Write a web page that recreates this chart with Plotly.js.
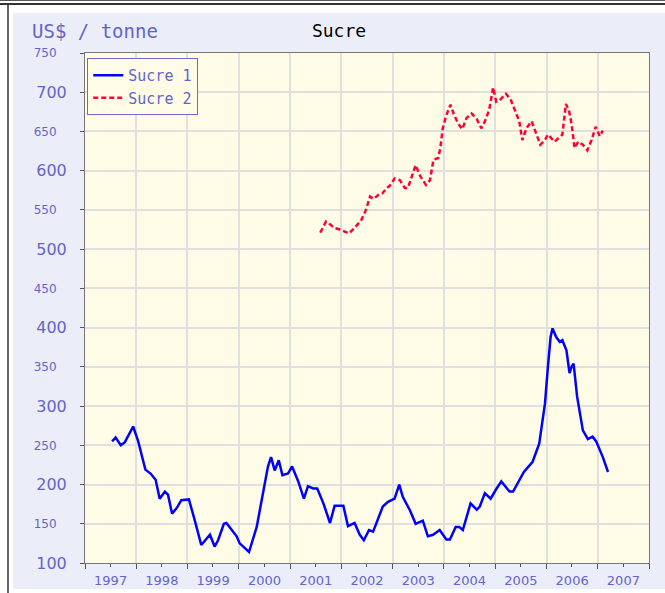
<!DOCTYPE html>
<html>
<head>
<meta charset="utf-8">
<script src="https://cdn.plot.ly/plotly-3.0.1.min.js"></script>
<style>
  body { margin: 0; background: #ffffff; }
  #frame { position: absolute; left: 0; top: 0; width: 665px; height: 593px; }
  #topline1 { position: absolute; left: 0; top: 0; width: 665px; height: 1px; background: #555; }
  #topline2 { position: absolute; left: 0; top: 3px; width: 665px; height: 2px; background: #333; }
  #leftline { position: absolute; left: 7px; top: 5px; width: 2px; height: 588px; background: #666; }
  #chart { position: absolute; left: 13px; top: 13px; width: 652px; height: 576px; }
</style>
</head>
<body>
<div id="frame">
  <div id="topline1"></div>
  <div id="topline2"></div>
  <div id="leftline"></div>
  <div id="chart"></div>
</div>
<script>
// Sucre 1 (decimal years, US$/tonne)
const sucre1Years = [
  1997.53, 1997.60, 1997.70, 1997.78, 1997.94, 1998.04, 1998.18, 1998.28, 1998.38, 1998.46,
  1998.56, 1998.62, 1998.70, 1998.79, 1998.88, 1999.03, 1999.14, 1999.27, 1999.44, 1999.53,
  1999.60, 1999.71, 1999.76, 1999.96, 2000.02, 2000.20, 2000.35, 2000.48, 2000.57, 2000.63,
  2000.70, 2000.78, 2000.85, 2000.96, 2001.04, 2001.16, 2001.27, 2001.35, 2001.45, 2001.53,
  2001.65, 2001.78, 2001.87, 2002.04, 2002.13, 2002.26, 2002.36, 2002.44, 2002.54, 2002.62,
  2002.75, 2002.81, 2002.91, 2003.04, 2003.13, 2003.20, 2003.34, 2003.45, 2003.59, 2003.69,
  2003.79, 2003.92, 2004.05, 2004.12, 2004.23, 2004.30, 2004.37, 2004.52, 2004.64, 2004.70,
  2004.80, 2004.91, 2005.01, 2005.12, 2005.28, 2005.35, 2005.56, 2005.73, 2005.86, 2005.97,
  2006.03, 2006.08, 2006.12, 2006.19, 2006.26, 2006.31, 2006.39, 2006.45, 2006.49, 2006.53,
  2006.60, 2006.71, 2006.81, 2006.90, 2006.97, 2007.10, 2007.20
];
const sucre1Values = [
  255, 260, 250, 254, 274, 255, 219, 214, 206, 182,
  191, 187, 163, 170, 180, 181, 155, 123, 136, 121,
  129, 150, 151, 134, 125, 114, 146, 189, 223, 235,
  218, 231, 212, 214, 223, 204, 182, 198, 195, 195,
  176, 151, 173, 173, 147, 151, 136, 129, 142, 140,
  163, 172, 178, 182, 200, 184, 167, 150, 154, 134,
  136, 142, 130, 130, 146, 146, 142, 176, 168, 172,
  189, 182, 193, 204, 191, 191, 216, 229, 252, 303,
  350, 388, 399, 388, 382, 384, 371, 342, 350, 354,
  312, 269, 258, 261, 255, 235, 216
];

// Sucre 2
const sucre2Years = [
  2001.59, 2001.70, 2001.79, 2001.87, 2001.97, 2002.07, 2002.15, 2002.26, 2002.39, 2002.48,
  2002.56, 2002.63, 2002.72, 2002.80, 2002.89, 2002.95, 2003.04, 2003.14, 2003.24, 2003.30,
  2003.39, 2003.45, 2003.54, 2003.65, 2003.73, 2003.80, 2003.89, 2003.93, 2003.98, 2004.05,
  2004.13, 2004.20, 2004.28, 2004.36, 2004.44, 2004.54, 2004.64, 2004.73, 2004.80, 2004.88,
  2004.96, 2005.02, 2005.09, 2005.21, 2005.30, 2005.40, 2005.47, 2005.53, 2005.61, 2005.71,
  2005.79, 2005.88, 2005.97, 2006.03, 2006.16, 2006.25, 2006.31, 2006.38, 2006.44, 2006.49,
  2006.55, 2006.62, 2006.71, 2006.80, 2006.88, 2006.96, 2007.04, 2007.10
];
const sucre2Values = [
  521, 535, 531, 527, 525, 522, 520, 527, 537, 550,
  567, 564, 569, 571, 578, 581, 590, 588, 578, 578,
  597, 607, 593, 582, 588, 614, 616, 628, 654, 671,
  684, 671, 660, 653, 667, 673, 666, 654, 663, 677,
  706, 688, 690, 698, 691, 673, 663, 639, 654, 663,
  650, 633, 639, 646, 637, 643, 646, 685, 677, 660,
  629, 637, 633, 626, 639, 656, 644, 651
];

const majorY = [100, 200, 300, 400, 500, 600, 700];
const minorY = [150, 250, 350, 450, 550, 650, 750];

const labelBlue = "#6464c8";
const gridGrey = "#e0e0e0";

function toDate(y) {
  const yr = Math.floor(y);
  const start = Date.UTC(yr, 0, 1);
  const end = Date.UTC(yr + 1, 0, 1);
  return new Date(start + (y - yr) * (end - start)).toISOString().slice(0, 10);
}

const traces = [
  {
    type: "scatter",
    mode: "lines",
    name: "Sucre 1",
    x: sucre1Years.map(toDate),
    y: sucre1Values,
    line: { color: "#0000ff", width: 2.5 },
  },
  {
    type: "scatter",
    mode: "lines",
    name: "Sucre 2",
    x: sucre2Years.map(toDate),
    y: sucre2Values,
    line: { color: "#ff0036", width: 2.5, dash: "5px,3px" },
  },
  {
    // empty trace so the second (50s) y axis draws its ticks
    type: "scatter",
    mode: "lines",
    x: [],
    y: [],
    yaxis: "y2",
    showlegend: false,
    hoverinfo: "skip",
  },
];

const layout = {
  width: 652,
  height: 576,
  paper_bgcolor: "#ebeef9",
  plot_bgcolor: "#fefce6",
  margin: { l: 72, r: 16, t: 40, b: 26, pad: 0 },
  title: {
    text: "Sucre",
    font: { family: "DejaVu Sans Mono", size: 18, color: "#000000" },
    x: 0.5,
    xanchor: "center",
    y: 0.969,
    yanchor: "middle",
  },
  showlegend: true,
  legend: {
    x: 0.004,
    y: 0.99,
    xanchor: "left",
    yanchor: "top",
    bgcolor: "#fefce6",
    bordercolor: "#6a6ad0",
    borderwidth: 1,
    font: { family: "DejaVu Sans Mono", size: 15, color: labelBlue },
    itemwidth: 30,
    tracegroupgap: 0,
  },
  xaxis: {
    type: "date",
    range: ["1997-01-01", "2008-01-01"],
    tick0: "1997-01-01",
    dtick: "M12",
    tickformat: "%Y",
    ticklabelmode: "period",
    ticks: "outside",
    ticklen: 5,
    tickcolor: "#555",
    tickfont: { family: "DejaVu Sans", size: 13, color: labelBlue },
    showgrid: true,
    gridcolor: gridGrey,
    gridwidth: 2,
    showline: true,
    linecolor: "#777",
    linewidth: 1,
    mirror: true,
    zeroline: false,
    minor: { dtick: "M6", ticks: "outside", ticklen: 3, tickcolor: "#555", showgrid: false },
  },
  yaxis: {
    range: [100, 750],
    tickvals: majorY,
    ticktext: majorY.map(String),
    ticks: "outside",
    ticklen: 4,
    tickcolor: "#555",
    tickfont: { family: "DejaVu Sans", size: 16, color: labelBlue },
    ticklabelstandoff: 10,
    showgrid: true,
    gridcolor: gridGrey,
    gridwidth: 2,
    showline: true,
    linecolor: "#777",
    linewidth: 1,
    mirror: true,
    zeroline: false,
  },
  yaxis2: {
    overlaying: "y",
    matches: "y",
    side: "left",
    range: [100, 750],
    tickvals: minorY,
    ticktext: minorY.map(String),
    ticks: "outside",
    ticklen: 4,
    tickcolor: "#555",
    tickfont: { family: "DejaVu Sans", size: 12, color: labelBlue },
    ticklabelstandoff: 21,
    showgrid: true,
    gridcolor: gridGrey,
    gridwidth: 2,
    showline: false,
    zeroline: false,
  },
  annotations: [
    {
      text: "US$ / tonne",
      xref: "paper",
      yref: "paper",
      x: -0.0975,
      y: 1.043,
      xanchor: "left",
      yanchor: "middle",
      showarrow: false,
      font: { family: "DejaVu Sans Mono", size: 19, color: labelBlue },
    },
  ],
};

Plotly.newPlot(document.getElementById("chart"), traces, layout, {
  displayModeBar: false,
  staticPlot: true,
});
</script>
</body>
</html>
